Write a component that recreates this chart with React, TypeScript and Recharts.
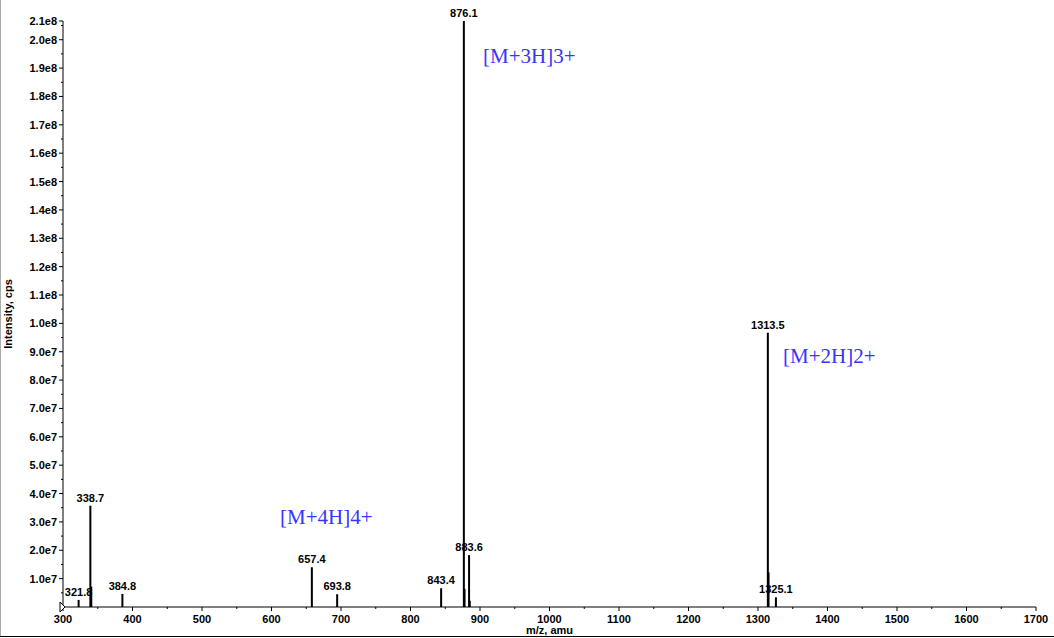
import { BarChart, Bar, XAxis, YAxis, LabelList } from 'recharts';

// peak list (m/z, intensity in cps, printed label)
const peakMz = [321.8, 338.7, 340.0, 384.8, 657.4, 693.8, 843.4, 876.1, 877.1, 883.6, 884.6, 1313.5, 1314.5, 1325.1];
const peakIntensity = [2.5e6, 3.57e7, 7.2e6, 4.6e6, 1.4e7, 4.5e6, 6.6e6, 2.066e8, 6.4e6, 1.83e7, 2.2e6, 9.67e7, 1.22e7, 3.4e6];
const peakLabel = ['321.8', '338.7', '', '384.8', '657.4', '693.8', '843.4', '876.1', '', '883.6', '', '1313.5', '', '1325.1'];

const yMax = 2.066e8;
const yTicks = [
  5e6, 1e7, 1.5e7, 2e7, 2.5e7, 3e7, 3.5e7, 4e7, 4.5e7, 5e7, 5.5e7, 6e7, 6.5e7, 7e7, 7.5e7, 8e7, 8.5e7, 9e7, 9.5e7, 1e8,
  1.05e8, 1.1e8, 1.15e8, 1.2e8, 1.25e8, 1.3e8, 1.35e8, 1.4e8, 1.45e8, 1.5e8, 1.55e8, 1.6e8, 1.65e8, 1.7e8, 1.75e8, 1.8e8,
  1.85e8, 1.9e8, 1.95e8, 2e8, 2.05e8, yMax,
];
const xTicks = [300, 350, 400, 450, 500, 550, 600, 650, 700, 750, 800, 850, 900, 950, 1000, 1050, 1100, 1150, 1200, 1250,
  1300, 1350, 1400, 1450, 1500, 1550, 1600, 1650, 1700];

const annotations = [
  { text: '[M+3H]3+', left: 483, top: 44 },
  { text: '[M+2H]2+', left: 783, top: 344 },
  { text: '[M+4H]4+', left: 280, top: 505 },
];

const data = peakMz.map((mz, i) => ({ mz, intensity: peakIntensity[i], label: peakLabel[i] }));

const tickFont = { fontFamily: 'Liberation Sans, Arial, sans-serif', fontSize: 11, fontWeight: 700 };

function fmtY(v: number) {
  if (v === yMax) return '2.1e8';
  const exp = Math.floor(Math.log10(v) + 1e-9);
  return (v / Math.pow(10, exp)).toFixed(1) + 'e' + exp;
}

function YTick(props: any) {
  const { x, y, payload } = props;
  const v = payload.value;
  const major = v === yMax || Math.round(v / 1e7) * 1e7 === v;
  return (
    <g>
      <line x1={x} x2={x - (major ? 4 : 2)} y1={y} y2={y} stroke="#000" />
      {major && (
        <text x={x - 6} y={y} dy={4} textAnchor="end" fill="#000" style={tickFont}>
          {fmtY(v)}
        </text>
      )}
    </g>
  );
}

function XTick(props: any) {
  const { x, y, payload } = props;
  const v = payload.value;
  const major = v % 100 === 0;
  return (
    <g>
      <line x1={x} x2={x} y1={y} y2={y + (major ? 4 : 2)} stroke="#000" />
      {major && (
        <text x={x} y={y + 16} textAnchor="middle" fill="#000" style={tickFont}>
          {v}
        </text>
      )}
      {v === 300 && <polygon points={`${x - 3},${y - 5} ${x + 2},${y} ${x - 3},${y + 5}`} fill="#fff" stroke="#000" />}
    </g>
  );
}

// stick drawn centred on the peak position, 2px wide
function Stick(props: any) {
  const { x, y, width, height } = props;
  if (!height) return null;
  return <rect x={x + width / 2 - 0.5} y={y} width={2} height={height} fill="#000" />;
}

function PeakLabel(props: any) {
  const { x, y, width, value } = props;
  if (!value) return null;
  return (
    <text x={x + width / 2 + 0.5} y={y - 4} textAnchor="middle" fill="#000" style={tickFont}>
      {value}
    </text>
  );
}

export default function App() {
  return (
    <div style={{ position: 'absolute', left: 0, top: 0, width: 1054, height: 638, background: '#fff' }}>
      <BarChart width={1054} height={638} data={data} margin={{ top: 21, right: 18, bottom: 0, left: 0 }}>
        <XAxis
          dataKey="mz"
          type="number"
          domain={[300, 1700]}
          ticks={xTicks}
          interval={0}
          tick={<XTick />}
          tickLine={false}
          tickSize={0}
          tickMargin={0}
          height={31}
          stroke="#000"
          label={{ value: 'm/z, amu', position: 'insideBottom', offset: 4, style: { ...tickFont, fill: '#000' } }}
        />
        <YAxis
          type="number"
          domain={[0, yMax]}
          allowDataOverflow
          ticks={yTicks}
          interval={0}
          tick={<YTick />}
          tickLine={false}
          tickSize={0}
          tickMargin={0}
          width={63}
          stroke="#000"
          label={{
            value: 'Intensity, cps',
            angle: -90,
            position: 'insideLeft',
            offset: 8,
            style: { ...tickFont, fill: '#000', textAnchor: 'middle' },
          }}
        />
        <Bar dataKey="intensity" fill="#000" barSize={2} shape={<Stick />} isAnimationActive={false}>
          <LabelList dataKey="label" content={<PeakLabel />} />
        </Bar>
      </BarChart>
      {annotations.map((a) => (
        <div
          key={a.text}
          style={{
            position: 'absolute',
            left: a.left,
            top: a.top,
            fontFamily: 'Liberation Serif, serif',
            fontSize: 21,
            color: '#3535ff',
            lineHeight: '24px',
            whiteSpace: 'nowrap',
          }}
        >
          {a.text}
        </div>
      ))}
      <div style={{ position: 'absolute', left: 0, top: 0, width: 1, height: 636, background: '#aaa' }} />
      <div style={{ position: 'absolute', left: 0, top: 636, width: 1054, height: 1, background: '#000' }} />
    </div>
  );
}
